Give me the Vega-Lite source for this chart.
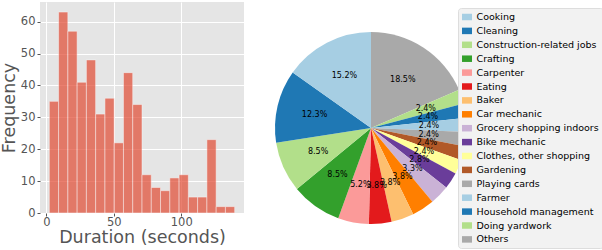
{
  "$schema": "https://vega.github.io/schema/vega-lite/v6.json",
  "padding": {"top": 2, "left": 0, "right": 0, "bottom": 0},
  "spacing": 27,
  "config": {"view": {"stroke": null}, "font": "DejaVu Sans"},
  "hconcat": [
    {
      "width": 204,
      "height": 211,
      "view": {"fill": "#E5E5E5", "stroke": null},
      "data": {"values": [
        {"b0": 2.2, "b1": 9.07, "count": 35},
        {"b0": 9.07, "b1": 15.94, "count": 63},
        {"b0": 15.94, "b1": 22.81, "count": 57},
        {"b0": 22.81, "b1": 29.68, "count": 41},
        {"b0": 29.68, "b1": 36.55, "count": 48},
        {"b0": 36.55, "b1": 43.42, "count": 31},
        {"b0": 43.42, "b1": 50.29, "count": 36},
        {"b0": 50.29, "b1": 57.16, "count": 22},
        {"b0": 57.16, "b1": 64.03, "count": 44},
        {"b0": 64.03, "b1": 70.9, "count": 34},
        {"b0": 70.9, "b1": 77.77, "count": 12},
        {"b0": 77.77, "b1": 84.64, "count": 8},
        {"b0": 84.64, "b1": 91.51, "count": 7},
        {"b0": 91.51, "b1": 98.38, "count": 11},
        {"b0": 98.38, "b1": 105.25, "count": 12},
        {"b0": 105.25, "b1": 112.12, "count": 5},
        {"b0": 112.12, "b1": 118.99, "count": 5},
        {"b0": 118.99, "b1": 125.86, "count": 23},
        {"b0": 125.86, "b1": 132.73, "count": 2},
        {"b0": 132.73, "b1": 139.6, "count": 2}
      ]},
      "mark": {"type": "rect", "color": "#E24A33", "opacity": 0.7, "stroke": "#ffffff", "strokeOpacity": 0.5, "strokeWidth": 1},
      "encoding": {
        "x": {"field": "b0", "type": "quantitative", "scale": {"domain": [-4.7, 146.5], "nice": false, "zero": false},
          "axis": {"values": [0, 50, 100], "title": "Duration (seconds)", "titleFontSize": 17.5, "titleFontWeight": "normal", "titleColor": "#555555", "labelFontSize": 11.5, "labelColor": "#555555", "tickColor": "#555555", "tickSize": 3, "domain": false, "gridColor": "#ffffff", "gridWidth": 1, "titlePadding": 1, "labelPadding": 0}},
        "x2": {"field": "b1"},
        "y": {"field": "count", "type": "quantitative", "scale": {"domain": [0, 66.15], "nice": false},
          "axis": {"values": [0, 10, 20, 30, 40, 50, 60], "title": "Frequency", "titleFontSize": 17.5, "titleFontWeight": "normal", "titleColor": "#555555", "labelFontSize": 11.5, "labelColor": "#555555", "tickColor": "#555555", "tickSize": 3, "domain": false, "gridColor": "#ffffff", "gridWidth": 1, "titlePadding": 2, "labelPadding": 2}},
        "y2": {"datum": 0}
      }
    },
    {
      "width": 200,
      "height": 252,
      "data": {"values": [
        {"activity": "Others", "frac": 0.185, "ord": 1},
        {"activity": "Doing yardwork", "frac": 0.024, "ord": 2},
        {"activity": "Household management", "frac": 0.024, "ord": 3},
        {"activity": "Farmer", "frac": 0.024, "ord": 4},
        {"activity": "Playing cards", "frac": 0.024, "ord": 5},
        {"activity": "Gardening", "frac": 0.024, "ord": 6},
        {"activity": "Clothes, other shopping", "frac": 0.024, "ord": 7},
        {"activity": "Bike mechanic", "frac": 0.028, "ord": 8},
        {"activity": "Grocery shopping indoors", "frac": 0.033, "ord": 9},
        {"activity": "Car mechanic", "frac": 0.038, "ord": 10},
        {"activity": "Baker", "frac": 0.038, "ord": 11},
        {"activity": "Eating", "frac": 0.038, "ord": 12},
        {"activity": "Carpenter", "frac": 0.052, "ord": 13},
        {"activity": "Crafting", "frac": 0.085, "ord": 14},
        {"activity": "Construction-related jobs", "frac": 0.085, "ord": 15},
        {"activity": "Cleaning", "frac": 0.123, "ord": 16},
        {"activity": "Cooking", "frac": 0.152, "ord": 17}
      ]},
      "encoding": {
        "theta": {"field": "frac", "type": "quantitative", "stack": true},
        "order": {"field": "ord", "type": "quantitative"},
        "color": {"field": "activity", "type": "nominal",
          "scale": {
            "domain": ["Cooking", "Cleaning", "Construction-related jobs", "Crafting", "Carpenter", "Eating", "Baker", "Car mechanic", "Grocery shopping indoors", "Bike mechanic", "Clothes, other shopping", "Gardening", "Playing cards", "Farmer", "Household management", "Doing yardwork", "Others"],
            "range": ["#a6cee3", "#1f78b4", "#b2df8a", "#33a02c", "#fb9a99", "#e31a1c", "#fdbf6f", "#ff7f00", "#cab2d6", "#6a3d9a", "#ffff99", "#b15928", "#a9a9a9", "#a6cee3", "#1f78b4", "#b2df8a", "#a9a9a9"]
          },
          "legend": {"orient": "none", "legendX": 418, "legendY": 6, "title": null, "fillColor": "#f2f2f2", "strokeColor": "#dddddd", "cornerRadius": 3, "padding": 4, "labelFontSize": 9.5, "labelColor": "#000000", "labelFont": "DejaVu Sans", "rowPadding": 3.9, "labelOffset": 4.5, "symbolType": "M-1,-0.65L1,-0.65L1,0.65L-1,0.65Z", "symbolSize": 100, "symbolStrokeWidth": 0, "symbolOpacity": 1, "labelLimit": 200}
        }
      },
      "layer": [
        {"mark": {"type": "arc", "radius": 96, "stroke": null}},
        {"mark": {"type": "text", "radius": 58, "fontSize": 8, "color": "#000000", "font": "DejaVu Sans"},
          "encoding": {"text": {"field": "frac", "type": "quantitative", "format": ".1%"}, "color": {"value": "#000000"}}}
      ]
    }
  ]
}
